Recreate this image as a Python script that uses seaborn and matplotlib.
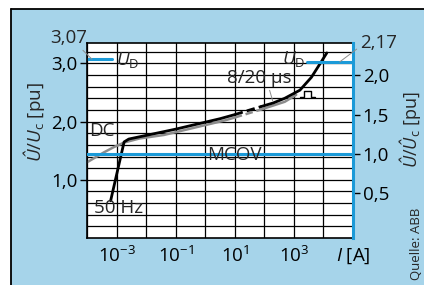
import numpy as np
import pandas as pd
import matplotlib
matplotlib.use("Agg")
import matplotlib.pyplot as plt
import seaborn as sns
from matplotlib.patches import Rectangle
from matplotlib.lines import Line2D
from matplotlib.ticker import FixedLocator, FixedFormatter, NullFormatter

# ---------------- data ----------------
# black characteristic: 50 Hz branch + DC, then 8/20 us region
blk_a_I = [6.3e-4, 1.8e-3, 2.6e-3, 1e-1, 3.2, 10.0]
blk_a_U = [0.64, 1.65, 1.70, 1.87, 2.05, 2.12]
blk_d_I = [10.0, 28.0, 80.0]
blk_d_U = [2.12, 2.19, 2.26]
blk_b_I = [80.0, 200.0, 490.0, 1600.0, 3900.0, 8500.0, 13000.0]
blk_b_U = [2.26, 2.32, 2.40, 2.54, 2.76, 3.03, 3.18]

# grey characteristic: DC, then rectangular-pulse region
gry_a_I = [1e-4, 2e-4, 3.7e-4, 8e-4, 1.8e-3, 6e-3, 4e-2, 4.6, 10.0]
gry_a_U = [1.30, 1.39, 1.47, 1.56, 1.64, 1.71, 1.77, 2.02, 2.07]
gry_d_I = [10.0, 80.0]
gry_d_U = [2.07, 2.21]
gry_b_I = [80.0, 490.0, 1200.0]
gry_b_U = [2.21, 2.34, 2.46]

# reference levels
mcov_I = [1e-4, 1e5]
mcov_U = [1.0, 1.0]          # right axis
ud_left_I = [1e-4, 7e-4]
ud_left_U = [3.07, 3.07]     # left axis
ud_right_I = [2.7e3, 1e5]
ud_right_U = [2.17, 2.17]    # right axis

left_ticks = [1.0, 2.0, 3.0]
left_labels = ["1,0", "2,0", "3,0"]
right_ticks = [0.5, 1.0, 1.5, 2.0]
right_labels = ["0,5", "1,0", "1,5", "2,0"]
x_ticks = [1e-3, 1e-1, 1e1, 1e3, 1e5]
x_labels = [r"$10^{-3}$", r"$10^{-1}$", r"$10^{1}$", r"$10^{3}$", r"$I$ [A]"]

# ---------------- style ----------------
sns.set_theme(style="white")
plt.rcParams["font.family"] = ["Open Sans", "DejaVu Sans"]
plt.rcParams["mathtext.fontset"] = "custom"
plt.rcParams["mathtext.rm"] = "Open Sans"
plt.rcParams["mathtext.it"] = "Open Sans:italic"
plt.rcParams["mathtext.bf"] = "Open Sans:bold"

BG = "#a6d4ea"
BLUE = "#1b9ad8"
GREY = "#8c8c8c"
FS = 13.5
W, H = 424, 285

def fx(px):
    return px / W

def fy(py):
    return 1 - py / H

fig = plt.figure(figsize=(W / 100, H / 100), dpi=100)
fig.patch.set_facecolor("white")
fig.patch.set_linewidth(0)
fig.patches.append(Rectangle((fx(11), 0), 1 - fx(11), fy(9), transform=fig.transFigure,
                             facecolor=BG, edgecolor="none", linewidth=0, zorder=-10))
fig.lines.append(Line2D([fx(11), 1], [fy(9), fy(9)], transform=fig.transFigure,
                        color="black", lw=1.3))
fig.lines.append(Line2D([fx(11), fx(11)], [0, fy(9)], transform=fig.transFigure,
                        color="black", lw=1.3))

ax = fig.add_axes([fx(87), 1 - 238 / H, (353 - 87) / W, (238 - 43) / H])
ax.set_facecolor("white")
ax.set_xscale("log")
ax2 = ax.twinx()

# curves
kw = dict(sort=False, estimator=None, legend=False)
sns.lineplot(x=gry_a_I, y=gry_a_U, ax=ax, color=GREY, linewidth=1.8, **kw)
sns.lineplot(x=gry_d_I, y=gry_d_U, ax=ax, color=GREY, linewidth=1.8,
             linestyle=(0, (3, 1.5)), **kw)
sns.lineplot(x=gry_b_I, y=gry_b_U, ax=ax, color=GREY, linewidth=1.8, **kw)
sns.lineplot(x=blk_a_I, y=blk_a_U, ax=ax, color="black", linewidth=2.0, **kw)
sns.lineplot(x=blk_d_I, y=blk_d_U, ax=ax, color="black", linewidth=2.0,
             linestyle=(0, (3, 1.5)), **kw)
sns.lineplot(x=blk_b_I, y=blk_b_U, ax=ax, color="black", linewidth=2.0, **kw)

sns.lineplot(x=ud_left_I, y=ud_left_U, ax=ax, color=BLUE, linewidth=2.2, **kw)
sns.lineplot(x=mcov_I, y=mcov_U, ax=ax2, color=BLUE, linewidth=2.2, **kw)
sns.lineplot(x=ud_right_I, y=ud_right_U, ax=ax2, color=BLUE, linewidth=2.2, **kw)

# axes setup (after plotting so nothing resets it)
ax.set_xscale("log")
ax.set_xlim(1e-4, 1e5)
ax.set_ylim(0, 3.35)
ax2.set_ylim(-0.065, 2.41)
ax.set_xlabel("")
ax.set_ylabel("")
ax2.set_ylabel("")

decades = [10.0 ** k for k in range(-4, 6)]
ax.xaxis.set_major_locator(FixedLocator(x_ticks))
ax.xaxis.set_major_formatter(FixedFormatter(x_labels))
ax.xaxis.set_minor_locator(FixedLocator(decades))
ax.xaxis.set_minor_formatter(NullFormatter())
ax.yaxis.set_major_locator(FixedLocator(left_ticks))
ax.yaxis.set_major_formatter(FixedFormatter(left_labels))
ax.yaxis.set_minor_locator(FixedLocator([round(0.2 * k, 1) for k in range(1, 17)]))
ax.yaxis.set_minor_formatter(NullFormatter())
ax.grid(True, which="both", color="black", linewidth=0.9)
ax.set_axisbelow(True)

ax.tick_params(axis="x", which="both", length=0, pad=6, labelsize=FS, colors="black")
ax.tick_params(axis="y", which="major", direction="out", length=5, width=1,
               pad=2, labelsize=FS, colors="black")
ax.tick_params(axis="y", which="minor", length=0)

ax2.yaxis.set_major_locator(FixedLocator(right_ticks))
ax2.yaxis.set_major_formatter(FixedFormatter(right_labels))
ax2.yaxis.set_minor_locator(FixedLocator([]))
ax2.tick_params(axis="y", which="major", direction="out", length=5, width=1,
                pad=2, labelsize=FS, colors="black")
ax2.grid(False)

for s in ["left", "top", "bottom"]:
    ax.spines[s].set_color("black")
    ax.spines[s].set_linewidth(1.2)
ax.spines["right"].set_visible(False)
for s in ["left", "top", "bottom"]:
    ax2.spines[s].set_visible(False)
ax2.spines["right"].set_color(BLUE)
ax2.spines["right"].set_linewidth(2.2)

# annotations
fig.text(fx(89), fy(131), "DC", ha="left", va="center", fontsize=FS)
fig.text(fx(207), fy(155), "MCOV", ha="left", va="center", fontsize=FS, zorder=5)
fig.text(fx(119), fy(208), "50 Hz", ha="center", va="center", fontsize=FS)
fig.text(fx(116), fy(60), r"$U_{\mathrm{D}}$", ha="left", va="center", fontsize=FS)
fig.text(fx(282), fy(59), r"$U_{\mathrm{D}}$", ha="left", va="center", fontsize=FS)
ax.annotate("8/20 µs", xy=(10 ** 2.28, 2.36), xycoords="data",
            xytext=(fx(259), fy(78)), textcoords="figure fraction",
            ha="center", va="center", fontsize=FS,
            arrowprops=dict(arrowstyle="-", color=GREY, lw=0.7, relpos=(0.65, 0.0),
                            shrinkA=0, shrinkB=0))
# rectangular-pulse symbol (no installed font has U+238D), drawn as a small shape
px_ = [300, 304, 304, 311, 311, 315]
py_ = [97, 97, 91, 91, 97, 97]
fig.lines.append(Line2D([fx(p) for p in px_], [fy(p) for p in py_],
                        transform=fig.transFigure, color="black", lw=1.0))
ax.annotate("3,07", xy=(10 ** -3.83, 3.07), xycoords="data",
            xytext=(fx(50), fy(38)), textcoords="figure fraction",
            ha="left", va="center", fontsize=FS, annotation_clip=False,
            arrowprops=dict(arrowstyle="-", color=GREY, lw=0.7, relpos=(0.8, 0.0),
                            shrinkA=0, shrinkB=0))
ax2.annotate("2,17", xy=(10 ** 4.55, 2.17), xycoords="data",
             xytext=(fx(360), fy(43)), textcoords="figure fraction",
             ha="left", va="center", fontsize=FS, annotation_clip=False,
             arrowprops=dict(arrowstyle="-", color=GREY, lw=0.7, relpos=(0.0, 0.3),
                             shrinkA=0, shrinkB=0))

fig.text(fx(34), fy(122), r"$Û/U_{\mathrm{c}}$ [pu]", rotation=90,
         ha="center", va="center", fontsize=FS)
fig.text(fx(410), fy(130), r"$Û/Û_{\mathrm{c}}$ [pu]", rotation=90,
         ha="center", va="center", fontsize=13)
fig.text(fx(416), fy(244), "Quelle: ABB", rotation=90,
         ha="center", va="center", fontsize=9.5)

fig.savefig("out.png", dpi=100)
